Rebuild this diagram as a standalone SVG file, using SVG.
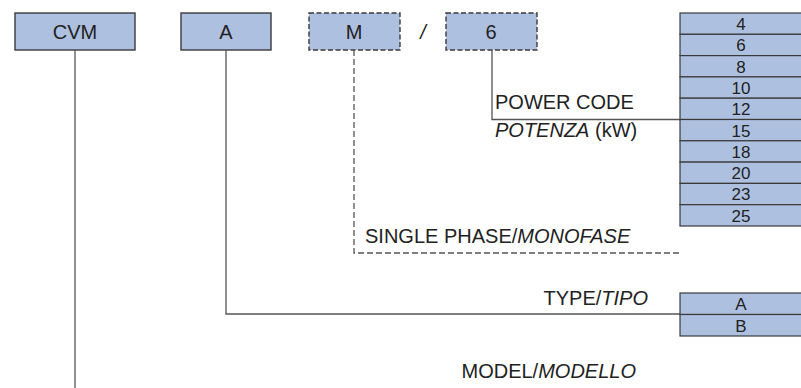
<svg xmlns="http://www.w3.org/2000/svg" width="801" height="388" viewBox="0 0 801 388">
  <style>
    .box { fill: #aec0e0; stroke: #3a3a3a; stroke-width: 1.4; }
    .dash { stroke-dasharray: 5 2.5; }
    .ldash { stroke-dasharray: 6 3; stroke: #444; }
    .cell { fill: #aec0e0; stroke: #3a3a3a; stroke-width: 1.2; }
    .t { font-family: "Liberation Sans", Arial, sans-serif; font-size: 20px; fill: #222; }
    .c { text-anchor: middle; }
    .n { font-family: "Liberation Sans", Arial, sans-serif; font-size: 17px; fill: #222; text-anchor: middle; }
    .i { font-style: italic; }
    .ln { fill: none; stroke: #555; stroke-width: 1.3; }
  </style>

  <rect width="801" height="388" fill="#ffffff"/>

  <!-- code fields -->
  <g id="node-cvm">
    <rect class="box" x="15" y="13" width="120" height="37"/>
    <text class="t c" x="75" y="38.5">CVM</text>
  </g>
  <g id="node-a">
    <rect class="box" x="181" y="13" width="90" height="37"/>
    <text class="t c" x="226" y="38.5">A</text>
  </g>
  <g id="node-m">
    <rect class="box dash" x="309" y="13" width="91" height="37"/>
    <text class="t c" x="354" y="38.5">M</text>
  </g>
  <text id="sep" class="t c i" x="423" y="38.5">/</text>
  <g id="node-6">
    <rect class="box dash" x="446" y="13" width="91" height="37"/>
    <text class="t c" x="491" y="38.5">6</text>
  </g>

  <!-- connectors -->
  <g id="connectors">
    <path class="ln" d="M75 50 V388"/>
    <path class="ln" d="M226 50 V314 H680"/>
    <path class="ln ldash" d="M354 50 V253 H680"/>
    <path class="ln" d="M492 50 V119.5 H680"/>
  </g>

  <!-- labels -->
  <g id="labels">
    <text class="t" x="495" y="109">POWER CODE</text>
    <text class="t" x="495" y="137"><tspan class="i">POTENZA</tspan> (kW)</text>
    <text class="t" x="365" y="243">SINGLE PHASE/<tspan class="i">MONOFASE</tspan></text>
    <text class="t" x="648" y="305" text-anchor="end">TYPE/<tspan class="i">TIPO</tspan></text>
    <text class="t" x="636" y="378" text-anchor="end">MODEL/<tspan class="i">MODELLO</tspan></text>
  </g>

  <!-- power code table -->
  <g id="node-power-table">
    <rect class="cell" x="680" y="13" width="125" height="21.3"/>
    <rect class="cell" x="680" y="34.3" width="125" height="21.3"/>
    <rect class="cell" x="680" y="55.6" width="125" height="21.3"/>
    <rect class="cell" x="680" y="76.9" width="125" height="21.3"/>
    <rect class="cell" x="680" y="98.2" width="125" height="21.3"/>
    <rect class="cell" x="680" y="119.5" width="125" height="21.3"/>
    <rect class="cell" x="680" y="140.8" width="125" height="21.3"/>
    <rect class="cell" x="680" y="162.1" width="125" height="21.3"/>
    <rect class="cell" x="680" y="183.4" width="125" height="21.3"/>
    <rect class="cell" x="680" y="204.7" width="125" height="21.3"/>
    <text class="n" x="741" y="30">4</text>
    <text class="n" x="741" y="51.3">6</text>
    <text class="n" x="741" y="72.6">8</text>
    <text class="n" x="741" y="93.9">10</text>
    <text class="n" x="741" y="115.2">12</text>
    <text class="n" x="741" y="136.5">15</text>
    <text class="n" x="741" y="157.8">18</text>
    <text class="n" x="741" y="179.1">20</text>
    <text class="n" x="741" y="200.4">23</text>
    <text class="n" x="741" y="221.7">25</text>
  </g>

  <!-- type table -->
  <g id="node-type-table">
    <rect class="cell" x="680" y="293" width="125" height="21.5"/>
    <rect class="cell" x="680" y="314.5" width="125" height="21.5"/>
    <text class="n" x="741" y="310">A</text>
    <text class="n" x="741" y="331.5">B</text>
  </g>
</svg>
